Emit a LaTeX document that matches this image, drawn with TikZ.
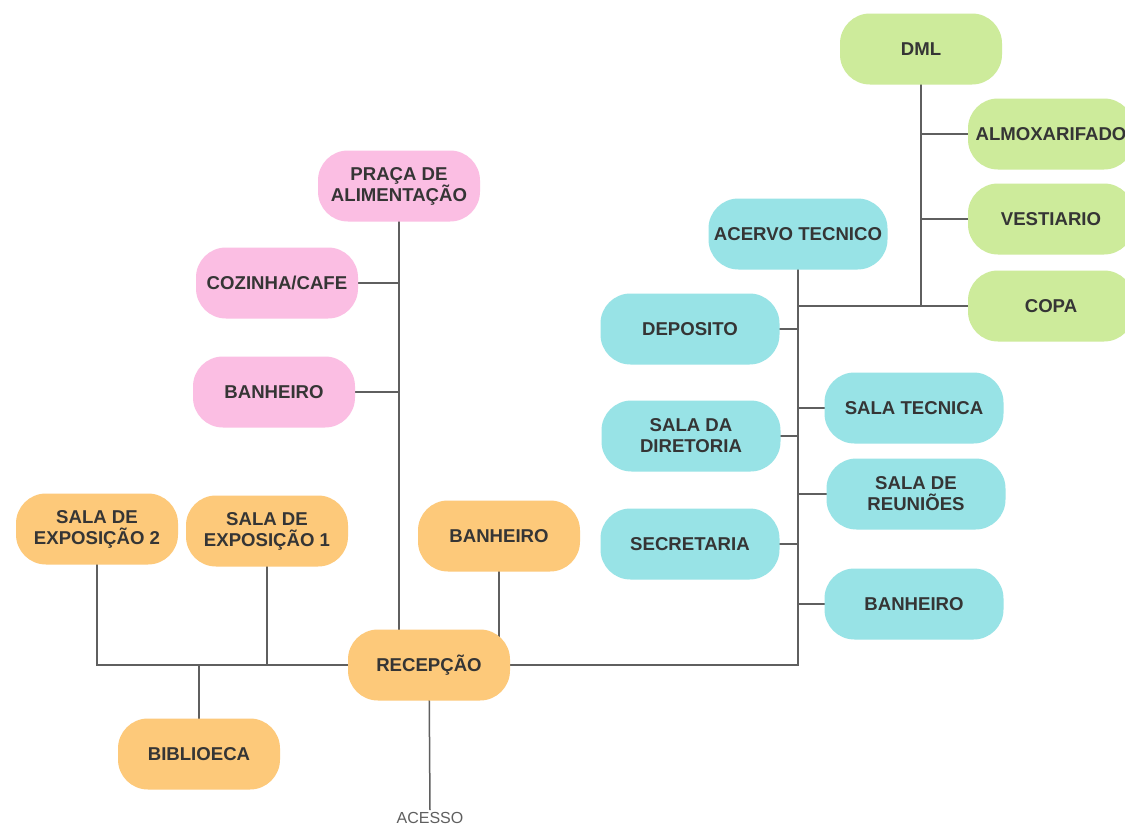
\documentclass[tikz,border=0pt]{standalone}
\usepackage{fontspec}
\setmainfont{Liberation Sans}
\usetikzlibrary{backgrounds}
\definecolor{cgreen}{HTML}{CDEB9B}
\definecolor{cteal}{HTML}{98E3E6}
\definecolor{cpink}{HTML}{FBBEE3}
\definecolor{corange}{HTML}{FDC97A}
\definecolor{ctext}{HTML}{353535}
\definecolor{cline}{HTML}{5F5F5F}
\begin{document}
\begin{tikzpicture}[x=1pt,y=-1pt,
  box/.style={rounded corners=30pt, minimum width=162pt, minimum height=71pt, inner sep=0pt,
    align=center, text=ctext, font=\fontsize{18.6}{21}\selectfont\bfseries},
  gbox/.style={box, fill=cgreen},
  tbox/.style={box, fill=cteal, minimum width=179pt},
  pbox/.style={box, fill=cpink},
  obox/.style={box, fill=corange},
  conn/.style={draw=cline, line width=1.5pt}]
\useasboundingbox (0,0) rectangle (1125,828);

% green
\node[gbox] (dml) at (921,49) {DML};
\node[gbox, minimum width=166pt] (almox) at (1051,134) {ALMOXARIFADO};
\node[gbox, minimum width=166pt] (vest) at (1051,219) {VESTIARIO};
\node[gbox, minimum width=166pt] (copa) at (1051,306) {COPA};
% teal
\node[tbox] (acervo) at (798,234) {ACERVO TECNICO};
\node[tbox] (deposito) at (690,329) {DEPOSITO};
\node[tbox] (diret) at (691,436) {SALA DA\\DIRETORIA};
\node[tbox] (secret) at (690,544) {SECRETARIA};
\node[tbox] (salatec) at (914,408) {SALA TECNICA};
\node[tbox] (reun) at (916,494) {SALA DE\\REUNIÕES};
\node[tbox] (ban3) at (914,604) {BANHEIRO};
% pink
\node[pbox] (praca) at (399,186) {PRAÇA DE\\ALIMENTAÇÃO};
\node[pbox] (cozinha) at (277,283) {COZINHA/CAFE};
\node[pbox] (ban1) at (274,392) {BANHEIRO};
% orange
\node[obox] (ex2) at (97,529) {SALA DE\\EXPOSIÇÃO 2};
\node[obox] (ex1) at (267,531) {SALA DE\\EXPOSIÇÃO 1};
\node[obox] (ban2) at (499,536) {BANHEIRO};
\node[obox] (recepcao) at (429,665) {RECEPÇÃO};
\node[obox] (bib) at (199,754) {BIBLIOECA};
\node[text=cline, font=\fontsize{16}{18}\selectfont, inner sep=2pt] (acesso) at (430,818) {ACESSO};

\begin{pgfonlayer}{background}
\fill[white] (0,0) rectangle (1125,828);
% green branch
\draw[conn] (dml.center) -- (dml.center |- copa.center);
\draw[conn] (almox.center) -- (dml.center |- almox.center);
\draw[conn] (vest.center) -- (dml.center |- vest.center);
\draw[conn] (copa.center) -- (acervo.center |- copa.center);
% teal branch
\draw[conn] (acervo.center) -- (acervo.center |- recepcao.center) -- (recepcao.center);
\draw[conn] (deposito.center) -- (acervo.center |- deposito.center);
\draw[conn] (diret.center) -- (acervo.center |- diret.center);
\draw[conn] (secret.center) -- (acervo.center |- secret.center);
\draw[conn] (salatec.center) -- (acervo.center |- salatec.center);
\draw[conn] (reun.center) -- (acervo.center |- reun.center);
\draw[conn] (ban3.center) -- (acervo.center |- ban3.center);
% pink branch
\draw[conn] (praca.center) -- (praca.center |- recepcao.center);
\draw[conn] (cozinha.center) -- (praca.center |- cozinha.center);
\draw[conn] (ban1.center) -- (praca.center |- ban1.center);
% orange branch
\draw[conn] (ex2.center) -- (ex2.center |- recepcao.center) -- (recepcao.center);
\draw[conn] (ex1.center) -- (ex1.center |- recepcao.center);
\draw[conn] (bib.center) -- (bib.center |- recepcao.center);
\draw[conn] (ban2.center) -- (ban2.center |- recepcao.center);
\draw[conn] (recepcao.center) -- (acesso.north);
\end{pgfonlayer}
\end{tikzpicture}
\end{document}
